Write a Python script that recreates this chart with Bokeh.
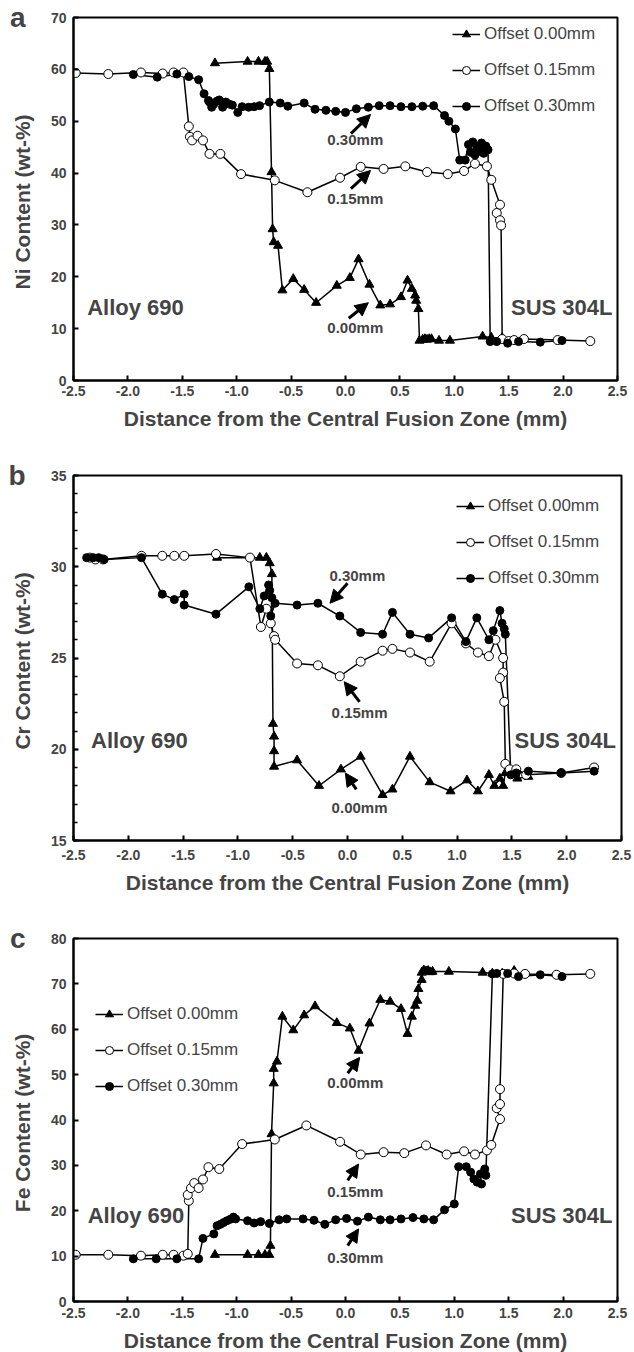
from bokeh.plotting import figure
from bokeh.models import (Range1d, FixedTicker, NumeralTickFormatter, Legend,
                          LegendItem, Label, Arrow, NormalHead, LinearAxis)
from bokeh.layouts import column
from bokeh.embed import file_html
from bokeh.resources import INLINE

FONT = "Liberation Sans"

# ---------------- data: panel a, Ni content ----------------
ni_x_000 = [-1.20, -0.90, -0.80, -0.74, -0.72, -0.70, -0.68, -0.67, -0.66, -0.62, -0.58, -0.48,
            -0.38, -0.27, -0.08, 0.04, 0.12, 0.22, 0.32, 0.41, 0.51, 0.57, 0.61, 0.64, 0.65,
            0.67, 0.68, 0.71, 0.73, 0.75, 0.77, 0.79, 0.86, 0.96, 1.26, 1.34, 1.44]
ni_y_000 = [61.2, 61.5, 61.5, 61.5, 61.5, 60.1, 40.2, 29.2, 26.7, 26.0, 17.4, 19.6,
            17.5, 15.0, 18.3, 19.8, 23.4, 18.5, 14.5, 14.7, 16.1, 19.3, 17.7, 16.4, 15.4,
            13.8, 7.7, 7.9, 8.0, 7.9, 8.0, 8.0, 7.7, 7.7, 8.5, 8.3, 8.2]
ni_x_015 = [-2.48, -2.18, -1.88, -1.68, -1.58, -1.49, -1.44, -1.43, -1.41, -1.36, -1.31, -1.25,
            -1.15, -0.96, -0.65, -0.35, -0.05, 0.14, 0.35, 0.55, 0.75, 0.94, 1.09, 1.19,
            1.30, 1.34, 1.42, 1.39, 1.42, 1.43, 1.44, 1.50, 1.55, 1.64, 1.95, 2.25]
ni_y_015 = [59.3, 59.1, 59.4, 59.2, 59.4, 59.4, 49.0, 47.0, 46.3, 47.2, 46.3, 43.7,
            43.7, 39.8, 38.6, 36.3, 39.1, 41.2, 40.8, 41.3, 40.2, 39.8, 40.4, 41.8,
            41.3, 38.7, 33.9, 32.3, 30.9, 29.9, 8.0, 7.6, 7.8, 8.0, 7.8, 7.6]
ni_x_030 = [-1.95, -1.73, -1.55, -1.44, -1.35, -1.30, -1.26, -1.25, -1.23, -1.21, -1.18, -1.16,
            -1.13, -1.10, -1.07, -1.04, -0.99, -0.95, -0.89, -0.84, -0.79, -0.70, -0.60, -0.53,
            -0.38, -0.28, -0.18, -0.09, 0.00, 0.10, 0.21, 0.31, 0.41, 0.51, 0.61, 0.71,
            0.81, 0.91, 0.95, 1.01, 1.05, 1.10, 1.13, 1.15, 1.17, 1.19, 1.21, 1.23,
            1.25, 1.27, 1.29, 1.31, 1.33, 1.39, 1.49, 1.59, 1.79, 1.99]
ni_y_030 = [59.0, 58.5, 59.1, 58.6, 58.0, 55.3, 54.0, 53.7, 52.7, 53.3, 53.9, 54.1,
            52.7, 53.7, 53.3, 53.1, 51.7, 52.8, 52.7, 52.8, 53.0, 53.7, 53.5, 52.9,
            53.5, 52.3, 52.1, 51.9, 51.7, 52.4, 52.7, 53.0, 53.0, 52.8, 52.8, 52.9,
            53.0, 51.1, 50.0, 48.5, 42.5, 42.5, 45.5, 44.0, 46.0, 43.5, 45.0, 44.2,
            45.8, 43.8, 45.2, 44.5, 7.5, 7.5, 7.2, 7.5, 7.4, 7.7]

# ---------------- data: panel b, Cr content ----------------
cr_x_000 = [-1.19, -0.80, -0.74, -0.71, -0.69, -0.68, -0.67, -0.67, -0.67, -0.46, -0.26, -0.06,
            0.12, 0.32, 0.41, 0.57, 0.75, 0.94, 1.09, 1.19, 1.29, 1.34, 1.39, 1.42,
            1.44, 1.55, 1.65]
cr_y_000 = [30.5, 30.5, 30.5, 30.2, 29.6, 21.4, 20.7, 19.9, 19.05, 19.4, 18.0, 18.9,
            19.6, 17.5, 17.8, 19.6, 18.2, 17.7, 18.3, 17.7, 18.6, 18.0, 18.4, 18.0,
            18.7, 18.4, 18.5]
cr_x_015 = [-2.35, -2.30, -2.23, -1.88, -1.69, -1.58, -1.49, -1.20, -0.89, -0.79, -0.74, -0.70,
            -0.67, -0.66, -0.46, -0.27, -0.07, 0.12, 0.32, 0.41, 0.57, 0.75, 0.95, 1.08,
            1.19, 1.29, 1.35, 1.42, 1.42, 1.39, 1.43, 1.44, 1.48, 1.54, 1.63, 1.95, 2.25]
cr_y_015 = [30.5, 30.4, 30.4, 30.6, 30.6, 30.6, 30.6, 30.7, 30.5, 26.7, 27.7, 26.9,
            26.2, 26.0, 24.7, 24.6, 24.0, 24.8, 25.4, 25.5, 25.3, 24.8, 26.9, 25.8,
            25.3, 25.1, 26.0, 25.0, 24.2, 23.9, 22.6, 19.2, 18.9, 18.9, 18.6, 18.7, 19.0]
cr_x_030 = [-2.38, -2.32, -2.27, -2.22, -1.88, -1.69, -1.58, -1.49, -1.49, -1.20, -0.90, -0.80,
            -0.76, -0.72, -0.71, -0.69, -0.70, -0.66, -0.46, -0.27, -0.07, 0.12, 0.32, 0.41,
            0.57, 0.74, 0.95, 1.08, 1.18, 1.29, 1.33, 1.39, 1.41, 1.43, 1.44, 1.49,
            1.54, 1.65, 1.95, 2.25]
cr_y_030 = [30.5, 30.5, 30.5, 30.4, 30.5, 28.5, 28.2, 28.5, 27.9, 27.4, 28.9, 27.7,
            28.4, 29.0, 28.7, 28.3, 27.3, 28.0, 27.9, 28.0, 27.3, 26.4, 26.3, 27.5,
            26.3, 26.1, 27.2, 25.9, 27.2, 26.0, 26.5, 27.6, 26.9, 26.6, 26.3, 18.6,
            18.7, 18.8, 18.7, 18.8]

# ---------------- data: panel c, Fe content ----------------
fe_x_000 = [-1.20, -0.90, -0.80, -0.74, -0.70, -0.69, -0.68, -0.66, -0.66, -0.63, -0.58, -0.48,
            -0.38, -0.28, -0.08, 0.04, 0.12, 0.22, 0.32, 0.41, 0.51, 0.57, 0.61, 0.64,
            0.66, 0.67, 0.70, 0.70, 0.72, 0.74, 0.76, 0.78, 0.80, 0.95, 1.26, 1.35,
            1.44, 1.55]
fe_y_000 = [10.3, 10.3, 10.3, 10.3, 10.3, 12.3, 36.9, 48.1, 51.3, 52.9, 62.8, 59.8,
            63.1, 65.1, 61.4, 60.2, 55.3, 61.3, 66.5, 66.1, 64.5, 59.0, 62.8, 65.2,
            66.3, 68.9, 70.9, 72.5, 73.0, 72.8, 72.9, 72.6, 72.7, 72.7, 72.5, 72.3,
            72.3, 72.9]
fe_x_015 = [-2.48, -2.18, -1.88, -1.68, -1.58, -1.49, -1.45, -1.44, -1.45, -1.42, -1.39, -1.35,
            -1.31, -1.26, -1.16, -0.95, -0.65, -0.36, -0.05, 0.14, 0.35, 0.54, 0.74, 0.93,
            1.09, 1.19, 1.30, 1.34, 1.42, 1.39, 1.42, 1.42, 1.45, 1.55, 1.65, 1.94, 2.25]
fe_y_015 = [10.3, 10.3, 10.1, 10.3, 10.3, 10.1, 10.5, 22.2, 23.5, 25.0, 26.1, 25.0,
            26.9, 29.6, 29.2, 34.7, 35.7, 38.8, 35.2, 32.4, 32.9, 32.7, 34.4, 32.4,
            33.1, 32.4, 33.3, 34.5, 40.2, 42.6, 43.5, 46.8, 72.2, 72.3, 72.2, 72.0, 72.2]
fe_x_030 = [-1.95, -1.74, -1.55, -1.35, -1.31, -1.21, -1.18, -1.15, -1.12, -1.09, -1.06, -1.03,
            -1.01, -0.90, -0.84, -0.78, -0.70, -0.61, -0.54, -0.39, -0.29, -0.19, -0.09, 0.01,
            0.11, 0.21, 0.32, 0.41, 0.51, 0.62, 0.72, 0.81, 0.91, 1.00, 1.04, 1.11,
            1.15, 1.18, 1.21, 1.25, 1.24, 1.28, 1.29, 1.35, 1.39, 1.49, 1.59, 1.79, 1.99]
fe_y_030 = [9.4, 9.4, 9.4, 9.4, 13.9, 14.9, 16.7, 17.0, 17.4, 17.8, 18.1, 18.6,
            18.2, 17.8, 17.3, 17.6, 17.2, 18.0, 18.2, 18.2, 17.9, 17.0, 18.0, 18.3,
            17.7, 18.6, 18.0, 18.0, 18.2, 18.5, 18.2, 18.0, 20.2, 21.5, 29.7, 29.7,
            28.5, 27.0, 26.3, 25.9, 28.1, 29.2, 27.8, 72.2, 72.3, 72.3, 71.6, 72.0, 71.6]

# ---------------- labels / ticks ----------------
series_names = ["Offset 0.00mm", "Offset 0.15mm", "Offset 0.30mm"]
x_ticks = [-2.5, -2.0, -1.5, -1.0, -0.5, 0.0, 0.5, 1.0, 1.5, 2.0, 2.5]
ni_ticks = [0, 10, 20, 30, 40, 50, 60, 70]
cr_ticks = [15, 20, 25, 30, 35]
cr_minor = list(range(15, 36))
fe_ticks = [0, 10, 20, 30, 40, 50, 60, 70, 80]
x_title = "Distance from the Central Fusion Zone (mm)"

STYLES = [
    dict(marker="triangle", size=9, fill_color="black", line_color="black", line_width=1),
    dict(marker="circle", size=9, fill_color="white", line_color="black", line_width=1),
    dict(marker="circle", size=8, fill_color="black", line_color="black", line_width=1),
]


def make_panel(letter, ylabel, yrange, yticks, yminor, series, layout, annots, legend_pos,
               letter_standoff, alloy_pos, sus_pos):
    p = figure(frame_width=layout["fw"], frame_height=layout["fh"],
               min_border_left=layout["l"], min_border_right=layout["r"],
               min_border_top=layout["t"], min_border_bottom=layout["b"],
               x_range=Range1d(-2.5, 2.5), y_range=Range1d(*yrange),
               output_backend="svg", toolbar_location=None, tools="")
    p.grid.visible = False
    p.outline_line_color = "black"
    p.outline_line_width = 2
    p.background_fill_color = "white"
    p.border_fill_color = "white"

    xa = p.xaxis[0]
    xa.ticker = FixedTicker(ticks=x_ticks)
    xa.formatter = NumeralTickFormatter(format="0.0")
    ya = p.yaxis[0]
    ya.ticker = FixedTicker(ticks=yticks, minor_ticks=yminor)
    for ax in (xa, ya):
        ax.axis_line_width = 2
        ax.major_tick_in = 5
        ax.major_tick_out = 0
        ax.minor_tick_in = 4
        ax.minor_tick_out = 0
        ax.major_tick_line_width = 2
        ax.minor_tick_line_width = 1.5
        ax.major_label_text_font = FONT
        ax.major_label_text_font_style = "bold"
        ax.major_label_text_font_size = "14px"
        ax.axis_label_text_font = FONT
        ax.axis_label_text_font_style = "bold"
        ax.axis_label_text_font_size = "21px"
    xa.axis_label = x_title
    xa.major_label_standoff = layout["xls"]
    xa.axis_label_standoff = layout["xas"]
    ya.axis_label = ylabel
    ya.major_label_standoff = 7
    ya.axis_label_standoff = 14

    # panel letter: a tick label of an outer, line-less left axis at the frame top
    top = yrange[1]
    lax = LinearAxis(ticker=FixedTicker(ticks=[top]), major_label_overrides={top: letter},
                     axis_line_color=None, major_tick_line_color=None,
                     minor_tick_line_color=None, major_tick_out=0, major_tick_in=0,
                     major_label_standoff=letter_standoff,
                     major_label_text_font=FONT, major_label_text_font_style="bold",
                     major_label_text_font_size="28px")
    p.add_layout(lax, "left")

    lines, dots = [], []
    for (xs, ys), st in zip(series, STYLES):
        lines.append(p.line(xs, ys, line_color="black", line_width=1.5))
    for (xs, ys), st in zip(series, STYLES):
        dots.append(p.scatter(xs, ys, **st))

    items = [LegendItem(label=n, renderers=[l, d]) for n, l, d in zip(series_names, lines, dots)]
    leg = Legend(items=items, location=legend_pos, background_fill_alpha=0,
                 border_line_alpha=0, padding=0, margin=0, spacing=16,
                 glyph_width=28, glyph_height=20, label_height=20, label_standoff=4,
                 label_text_font=FONT, label_text_font_size="17px")
    p.add_layout(leg)

    for txt, (tx, ty), (ax0, ay0, ax1, ay1) in annots:
        p.add_layout(Label(x=tx, y=ty, text=txt, text_font=FONT, text_font_style="bold",
                           text_font_size="15px", text_align="center",
                           text_baseline="middle"))
        p.add_layout(Arrow(x_start=ax0, y_start=ay0, x_end=ax1, y_end=ay1,
                           line_width=3, line_color="black",
                           end=NormalHead(size=13, fill_color="black", line_color="black")))

    p.add_layout(Label(x=alloy_pos[0], y=alloy_pos[1], text="Alloy 690", text_font=FONT,
                       text_font_style="bold", text_font_size="22px", text_align="left",
                       text_baseline="middle"))
    p.add_layout(Label(x=sus_pos[0], y=sus_pos[1], text="SUS 304L", text_font=FONT,
                       text_font_style="bold", text_font_size="22px", text_align="right",
                       text_baseline="middle"))
    return p


pa = make_panel(
    "a", "Ni  Content (wt-%)", (0, 70), ni_ticks, [],
    [(ni_x_000, ni_y_000), (ni_x_015, ni_y_015), (ni_x_030, ni_y_030)],
    dict(fw=544, fh=363, l=73, r=17, t=17, b=60, xls=5, xas=8),
    [("0.30mm", (0.09, 46.5), (0.05, 47.6, 0.23, 51.3)),
     ("0.15mm", (0.09, 35.1), (0.05, 37.0, 0.23, 40.5)),
     ("0.00mm", (0.09, 10.2), (0.03, 12.0, 0.21, 15.0))],
    (379, 264), -18, (-2.374, 14.1), (2.454, 14.1))

pb = make_panel(
    "b", "Cr  Content (wt-%)", (15, 35), cr_ticks, cr_minor,
    [(cr_x_000, cr_y_000), (cr_x_015, cr_y_015), (cr_x_030, cr_y_030)],
    dict(fw=548, fh=365, l=69, r=17, t=35, b=58, xls=9, xas=8),
    [("0.30mm", (0.09, 29.5), (0.0, 29.1, -0.16, 28.0)),
     ("0.15mm", (0.11, 22.0), (0.11, 22.6, -0.03, 23.7)),
     ("0.00mm", (0.11, 16.8), (0.08, 17.8, -0.02, 18.7))],
    (383, 252), -18, (-2.34, 20.5), (2.45, 20.5))

pc = make_panel(
    "c", "Fe  Content (wt-%)", (0, 80), fe_ticks, [],
    [(fe_x_000, fe_y_000), (fe_x_015, fe_y_015), (fe_x_030, fe_y_030)],
    dict(fw=544, fh=363, l=73, r=17, t=40, b=51, xls=6, xas=8),
    [("0.00mm", (0.09, 48.3), (0.02, 50.3, 0.13, 53.8)),
     ("0.15mm", (0.09, 24.3), (0.02, 26.7, 0.12, 30.3)),
     ("0.30mm", (0.09, 9.8), (0.02, 12.3, 0.12, 16.0))],
    (22, 205), -18, (-2.37, 18.9), (2.454, 18.9))

layout = column(pa, pb, pc, spacing=0)
open("out.html", "w").write(file_html(layout, INLINE))
